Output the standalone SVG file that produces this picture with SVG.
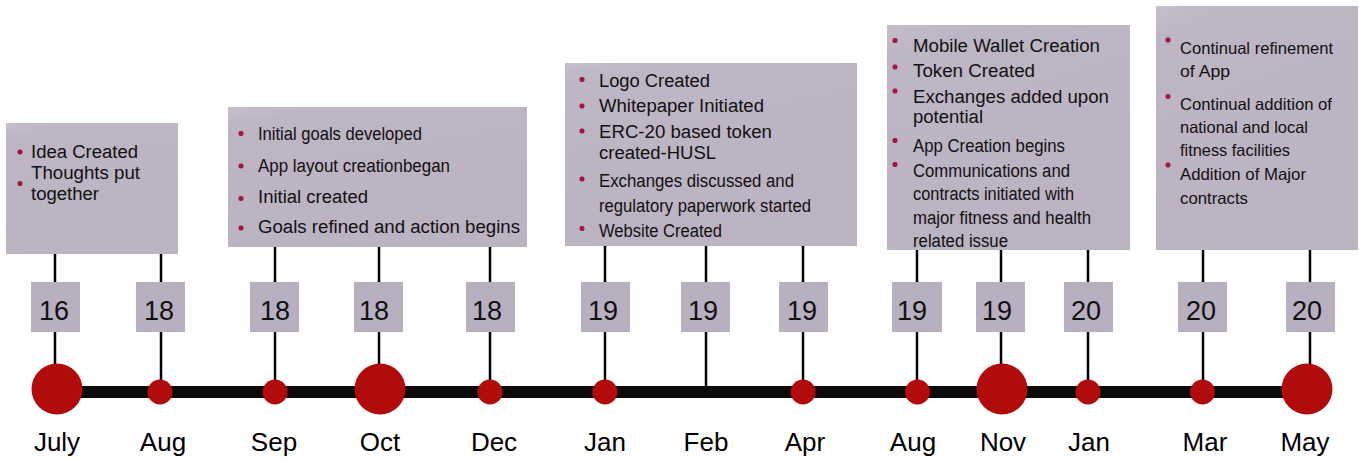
<svg xmlns="http://www.w3.org/2000/svg" width="1359" height="461" viewBox="0 0 1359 461">
<defs>
<linearGradient id="boxg" x1="0" y1="0" x2="0.35" y2="1">
<stop offset="0" stop-color="#C6BECC"/>
<stop offset="0.12" stop-color="#BEB5C5"/>
<stop offset="1" stop-color="#BBB2C2"/>
</linearGradient>
<style>
.desc{fill:url(#boxg);}
.yr{fill:#B8AFC1;}
.stem{stroke:#000;stroke-width:2.5;fill:none;}
.bar{fill:#0A0A0A;}
.dot{fill:#B20B0B;}
.bul{fill:#A3173F;}
.t{font-family:"Liberation Sans",Arial,sans-serif;font-size:18px;fill:#111;}
.t5{font-family:"Liberation Sans",Arial,sans-serif;font-size:16.5px;fill:#111;}
.y{font-family:"Liberation Sans",Arial,sans-serif;font-size:27px;fill:#111;text-anchor:middle;}
.m{font-family:"Liberation Sans",Arial,sans-serif;font-size:26px;fill:#000;text-anchor:middle;}
</style>
</defs>
<rect width="1359" height="461" fill="#fff"/>

<g id="connectors">
<line class="stem" x1="55" y1="254" x2="55" y2="392"/>
<line class="stem" x1="161" y1="254" x2="161" y2="392"/>
<line class="stem" x1="275" y1="247" x2="275" y2="392"/>
<line class="stem" x1="379" y1="247" x2="379" y2="392"/>
<line class="stem" x1="490" y1="247" x2="490" y2="392"/>
<line class="stem" x1="605" y1="246" x2="605" y2="392"/>
<line class="stem" x1="706" y1="246" x2="706" y2="392"/>
<line class="stem" x1="803" y1="246" x2="803" y2="392"/>
<line class="stem" x1="917" y1="250" x2="917" y2="392"/>
<line class="stem" x1="1001" y1="250" x2="1001" y2="392"/>
<line class="stem" x1="1088" y1="250" x2="1088" y2="392"/>
<line class="stem" x1="1203" y1="250" x2="1203" y2="392"/>
<line class="stem" x1="1310" y1="250" x2="1310" y2="392"/>
<rect class="bar" x="57" y="386" width="1250" height="12"/>
</g>

<g id="box1">
<rect class="desc" x="6" y="123" width="172" height="131"/>
<rect class="bul" x="17.5" y="149.5" width="5" height="5" rx="2"/>
<rect class="bul" x="17.5" y="181" width="5" height="5" rx="2"/>
<text class="t" x="31" y="158" textLength="107" lengthAdjust="spacingAndGlyphs">Idea Created</text>
<text class="t" x="31" y="179" textLength="109" lengthAdjust="spacingAndGlyphs">Thoughts put</text>
<text class="t" x="31" y="200" textLength="68" lengthAdjust="spacingAndGlyphs">together</text>
</g>

<g id="box2">
<rect class="desc" x="228" y="107" width="299" height="140"/>
<rect class="bul" x="238.5" y="131" width="5" height="5" rx="2"/>
<rect class="bul" x="238.5" y="163.5" width="5" height="5" rx="2"/>
<rect class="bul" x="238.5" y="196" width="5" height="5" rx="2"/>
<rect class="bul" x="238.5" y="225.5" width="5" height="5" rx="2"/>
<text class="t" x="258" y="139.5" textLength="164" lengthAdjust="spacingAndGlyphs">Initial goals developed</text>
<text class="t" x="258" y="171.5" textLength="192" lengthAdjust="spacingAndGlyphs">App layout creationbegan</text>
<text class="t" x="258" y="203" textLength="110" lengthAdjust="spacingAndGlyphs">Initial created</text>
<text class="t" x="258" y="233" textLength="262" lengthAdjust="spacingAndGlyphs">Goals refined and action begins</text>
</g>

<g id="box3">
<rect class="desc" x="565" y="63" width="292" height="183"/>
<rect class="bul" x="579.5" y="77" width="5" height="5" rx="2"/>
<rect class="bul" x="579.5" y="103.5" width="5" height="5" rx="2"/>
<rect class="bul" x="579.5" y="128.5" width="5" height="5" rx="2"/>
<rect class="bul" x="579.5" y="176.5" width="5" height="5" rx="2"/>
<rect class="bul" x="579.5" y="226" width="5" height="5" rx="2"/>
<text class="t" x="599" y="87" textLength="111" lengthAdjust="spacingAndGlyphs">Logo Created</text>
<text class="t" x="599" y="112" textLength="165" lengthAdjust="spacingAndGlyphs">Whitepaper Initiated</text>
<text class="t" x="599" y="137.5" textLength="173" lengthAdjust="spacingAndGlyphs">ERC-20 based token</text>
<text class="t" x="599" y="158.5" textLength="117" lengthAdjust="spacingAndGlyphs">created-HUSL</text>
<text class="t" x="599" y="187" textLength="195" lengthAdjust="spacingAndGlyphs">Exchanges discussed and</text>
<text class="t" x="599" y="212" textLength="212" lengthAdjust="spacingAndGlyphs">regulatory paperwork started</text>
<text class="t" x="599" y="237" textLength="123" lengthAdjust="spacingAndGlyphs">Website Created</text>
</g>

<g id="box4">
<rect class="desc" x="887" y="25" width="243" height="225"/>
<rect class="bul" x="892.5" y="38" width="5" height="5" rx="2"/>
<rect class="bul" x="892.5" y="64.5" width="5" height="5" rx="2"/>
<rect class="bul" x="892.5" y="88.5" width="5" height="5" rx="2"/>
<rect class="bul" x="892.5" y="138" width="5" height="5" rx="2"/>
<rect class="bul" x="892.5" y="162" width="5" height="5" rx="2"/>
<text class="t" x="913" y="52" textLength="187" lengthAdjust="spacingAndGlyphs">Mobile Wallet Creation</text>
<text class="t" x="913" y="77" textLength="122" lengthAdjust="spacingAndGlyphs">Token Created</text>
<text class="t" x="913" y="103" textLength="196" lengthAdjust="spacingAndGlyphs">Exchanges added upon</text>
<text class="t" x="913" y="123" textLength="70" lengthAdjust="spacingAndGlyphs">potential</text>
<text class="t" x="913" y="152" textLength="152" lengthAdjust="spacingAndGlyphs">App Creation begins</text>
<text class="t" x="913" y="177" textLength="157" lengthAdjust="spacingAndGlyphs">Communications and</text>
<text class="t" x="913" y="200" textLength="161" lengthAdjust="spacingAndGlyphs">contracts initiated with</text>
<text class="t" x="913" y="223.5" textLength="178" lengthAdjust="spacingAndGlyphs">major fitness and health</text>
<text class="t" x="913" y="247" textLength="95" lengthAdjust="spacingAndGlyphs">related issue</text>
</g>

<g id="box5">
<rect class="desc" x="1156" y="6" width="202" height="244"/>
<rect class="bul" x="1165.5" y="37.5" width="5" height="5" rx="2"/>
<rect class="bul" x="1165.5" y="94" width="5" height="5" rx="2"/>
<rect class="bul" x="1165.5" y="162.5" width="5" height="5" rx="2"/>
<text class="t5" x="1180" y="53.5" textLength="153" lengthAdjust="spacingAndGlyphs">Continual refinement</text>
<text class="t5" x="1180" y="77" textLength="50" lengthAdjust="spacingAndGlyphs">of App</text>
<text class="t5" x="1180" y="110" textLength="152" lengthAdjust="spacingAndGlyphs">Continual addition of</text>
<text class="t5" x="1180" y="132.5" textLength="128" lengthAdjust="spacingAndGlyphs">national and local</text>
<text class="t5" x="1180" y="156" textLength="110" lengthAdjust="spacingAndGlyphs">fitness facilities</text>
<text class="t5" x="1180" y="180" textLength="126" lengthAdjust="spacingAndGlyphs">Addition of Major</text>
<text class="t5" x="1180" y="203.5" textLength="68" lengthAdjust="spacingAndGlyphs">contracts</text>
</g>

<g id="m-jul16"><rect class="yr" x="31" y="282" width="49" height="50"/><text class="y" x="54" y="320">16</text><circle class="dot" cx="57" cy="389" r="25.5"/><text class="m" x="57" y="451">July</text></g>
<g id="m-aug18"><rect class="yr" x="136" y="282" width="49" height="50"/><text class="y" x="159" y="320">18</text><circle class="dot" cx="160" cy="392" r="12.5"/><text class="m" x="163" y="451">Aug</text></g>
<g id="m-sep18"><rect class="yr" x="250" y="282" width="49" height="50"/><text class="y" x="275" y="320">18</text><circle class="dot" cx="275" cy="392" r="12.5"/><text class="m" x="274" y="451">Sep</text></g>
<g id="m-oct18"><rect class="yr" x="354" y="282" width="49" height="50"/><text class="y" x="374" y="320">18</text><circle class="dot" cx="380" cy="389" r="25.5"/><text class="m" x="380" y="451">Oct</text></g>
<g id="m-dec18"><rect class="yr" x="466" y="282" width="49" height="50"/><text class="y" x="487" y="320">18</text><circle class="dot" cx="490" cy="392" r="12.5"/><text class="m" x="494" y="451">Dec</text></g>
<g id="m-jan19"><rect class="yr" x="581" y="282" width="49" height="50"/><text class="y" x="603" y="320">19</text><circle class="dot" cx="605" cy="392" r="12.5"/><text class="m" x="605" y="451">Jan</text></g>
<g id="m-feb19"><rect class="yr" x="681" y="282" width="49" height="50"/><text class="y" x="703" y="320">19</text><text class="m" x="706" y="451">Feb</text></g>
<g id="m-apr19"><rect class="yr" x="779" y="282" width="49" height="50"/><text class="y" x="802" y="320">19</text><circle class="dot" cx="803" cy="392" r="12.5"/><text class="m" x="805" y="451">Apr</text></g>
<g id="m-aug19"><rect class="yr" x="892" y="282" width="50" height="50"/><text class="y" x="912" y="320">19</text><circle class="dot" cx="917.5" cy="392" r="12.5"/><text class="m" x="913" y="451">Aug</text></g>
<g id="m-nov19"><rect class="yr" x="976" y="282" width="49" height="50"/><text class="y" x="997" y="320">19</text><circle class="dot" cx="1002" cy="389" r="25.5"/><text class="m" x="1003" y="451">Nov</text></g>
<g id="m-jan20"><rect class="yr" x="1064" y="282" width="49" height="50"/><text class="y" x="1086" y="320">20</text><circle class="dot" cx="1088" cy="392" r="12.5"/><text class="m" x="1089" y="451">Jan</text></g>
<g id="m-mar20"><rect class="yr" x="1178" y="282" width="49" height="50"/><text class="y" x="1201" y="320">20</text><circle class="dot" cx="1202.5" cy="392" r="12.5"/><text class="m" x="1205" y="451">Mar</text></g>
<g id="m-may20"><rect class="yr" x="1286" y="282" width="49" height="50"/><text class="y" x="1307" y="320">20</text><circle class="dot" cx="1307" cy="389" r="25.5"/><text class="m" x="1305" y="451">May</text></g>
</svg>
